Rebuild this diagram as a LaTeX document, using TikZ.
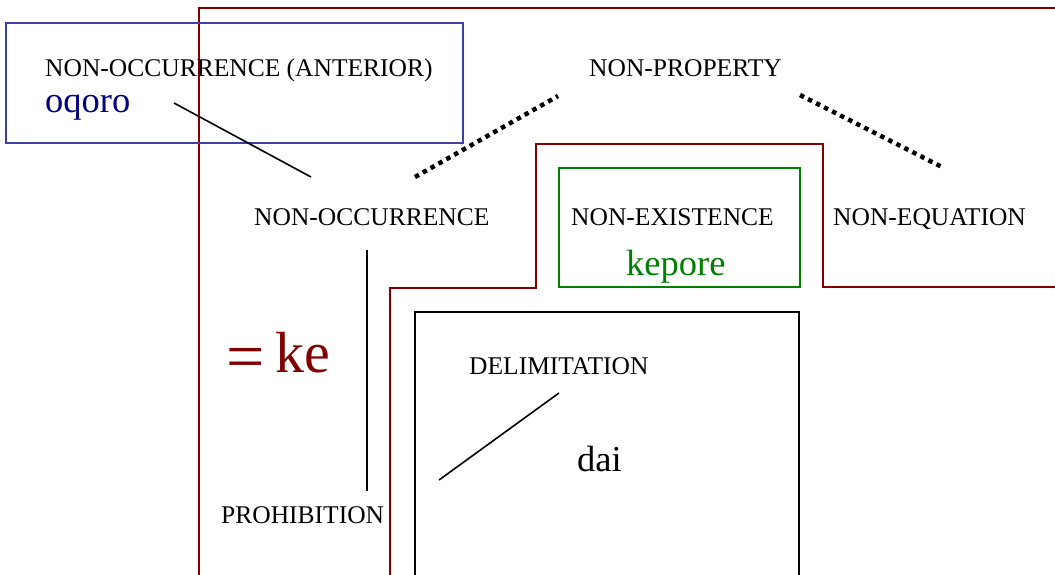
\documentclass[tikz,border=0pt]{standalone}
\usepackage{fontspec}
\setmainfont{Liberation Serif}
\definecolor{dred}{RGB}{128,0,0}
\definecolor{bbox}{RGB}{64,64,170}
\definecolor{navy}{RGB}{0,0,128}
\definecolor{dgreen}{RGB}{0,128,0}
\tikzset{
  lbl/.style={anchor=base west,inner sep=0pt,font=\fontsize{25.5}{28}\selectfont},
  big/.style={anchor=base west,inner sep=0pt,font=\fontsize{36.5}{40}\selectfont},
  redline/.style={draw=dred,line width=2.6pt},
  link/.style={draw=black,line width=1.6pt},
  dots/.style={draw=black,line width=4.5pt,dash pattern=on 4.5pt off 4.5pt},
}
\begin{document}
\begin{tikzpicture}[x=1pt,y=-1pt]
\useasboundingbox (0,0) rectangle (1055,574);
% frames
\draw[redline] (199,580) -- (199,8) -- (1060,8);
\draw[redline] (390,580) -- (390,288) -- (536,288) -- (536,144) -- (823,144) -- (823,287) -- (1060,287);
\draw[draw=bbox,line width=2.6pt] (6,23) rectangle (463,143);
\draw[draw=dgreen,line width=2.6pt] (559,168) rectangle (800,287);
\draw[draw=black,line width=2.6pt] (799,580) -- (799,312) -- (415,312) -- (415,580);
% labels
\node[lbl] (antl) at (45,76) {NON-OCCURRENCE (ANTERIOR)};
\node[big,text=navy] (oqoro) at (45,112) {oqoro};
\node[lbl] (prop) at (589,76) {NON-PROPERTY};
\node[lbl] (occ) at (254,225) {NON-OCCURRENCE};
\node[lbl] (exist) at (571,225) {NON-EXISTENCE};
\node[lbl] (equ) at (833,225) {NON-EQUATION};
\node[big,text=dgreen] (kepore) at (626,275) {kepore};
\node[lbl] (delim) at (469,374) {DELIMITATION};
\node[lbl] (prohib) at (221,523) {PROHIBITION};
\node[big] (dai) at (577,471) {dai};
\node[anchor=base west,inner sep=0pt,text=dred,font=\fontsize{58}{62}\selectfont] (ke) at (226,372) {\raisebox{-7pt}{\fontsize{68}{70}\selectfont=}\hspace{11pt}ke};
% connector ends
\coordinate (c1) at (174,103);
\coordinate (c2) at (311,177);
\coordinate (c3) at (415,177);
\coordinate (c4) at (558,96);
\coordinate (c5) at (800,95);
\coordinate (c6) at (942,167);
\coordinate (c7) at (367,250);
\coordinate (c8) at (367,491);
\coordinate (c9) at (439,480);
\coordinate (c10) at (559,393);
\draw[link] (c1) -- (c2);
\draw[dots] (c3) -- (c4);
\draw[dots] (c5) -- (c6);
\draw[link] (c7) -- (c8);
\draw[link] (c9) -- (c10);
\end{tikzpicture}
\end{document}
